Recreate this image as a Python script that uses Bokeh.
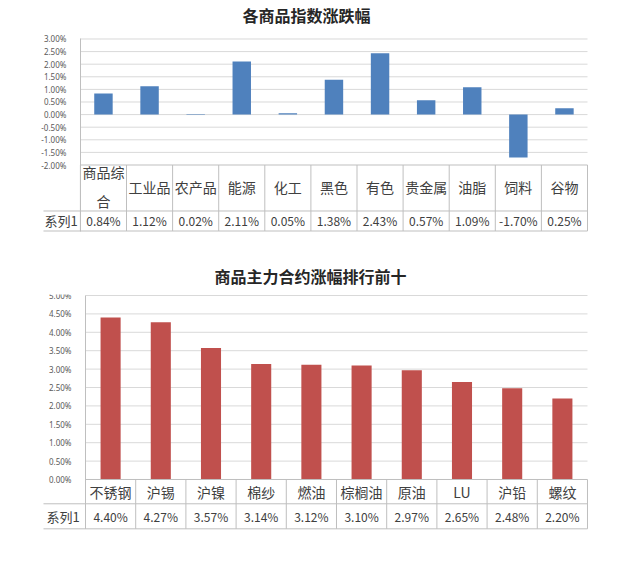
from bokeh.plotting import figure
from bokeh.models import Range1d, FixedTicker, NumeralTickFormatter
from bokeh.layouts import column
from bokeh.core.properties import value
from bokeh.embed import file_html
from bokeh.resources import INLINE

# ---------------- data ----------------
top_title = "各商品指数涨跌幅"
top_categories = ["商品综\n合", "工业品", "农产品", "能源", "化工", "黑色", "有色", "贵金属", "油脂", "饲料", "谷物"]
top_values = [0.0084, 0.0112, 0.0002, 0.0211, 0.0005, 0.0138, 0.0243, 0.0057, 0.0109, -0.0170, 0.0025]
top_labels = ["0.84%", "1.12%", "0.02%", "2.11%", "0.05%", "1.38%", "2.43%", "0.57%", "1.09%", "-1.70%", "0.25%"]
top_ticks = [-0.02, -0.015, -0.01, -0.005, 0.0, 0.005, 0.01, 0.015, 0.02, 0.025, 0.03]

bot_title = "商品主力合约涨幅排行前十"
bot_categories = ["不锈钢", "沪锡", "沪镍", "棉纱", "燃油", "棕榈油", "原油", "LU", "沪铅", "螺纹"]
bot_values = [0.0440, 0.0427, 0.0357, 0.0314, 0.0312, 0.0310, 0.0297, 0.0265, 0.0248, 0.0220]
bot_labels = ["4.40%", "4.27%", "3.57%", "3.14%", "3.12%", "3.10%", "2.97%", "2.65%", "2.48%", "2.20%"]
bot_ticks = [0.0, 0.005, 0.01, 0.015, 0.02, 0.025, 0.03, 0.035, 0.04, 0.045, 0.05]

series_name = "系列1"

FONT = value("Noto Sans CJK SC")
GRID = "#d9d9d9"
TABLE = "#bfbfbf"
TEXT = "#404040"


def make_chart(title, title_offset, title_valign, title_standoff, cats, vals, labels, ticks,
               color, height, x_range, y_range, borders, table_rows, text_y,
               label_x, tick_size, cat_size):
    left, right, top, bottom = borders
    p = figure(width=640, height=height, output_backend="svg", toolbar_location=None,
               x_range=x_range, y_range=y_range, x_axis_location=None,
               min_border_left=left, min_border_right=right,
               min_border_top=top, min_border_bottom=bottom)
    p.outline_line_color = None
    p.xgrid.visible = False
    p.ygrid.visible = False
    p.background_fill_color = "white"

    p.title.text = title
    p.title.align = "left"
    p.title.offset = title_offset
    p.title.vertical_align = title_valign
    p.title.text_font = "Noto Sans CJK SC"
    p.title.text_font_size = "16px"
    p.title.text_font_style = "bold"
    p.title.text_color = "#262626"
    p.title.standoff = title_standoff

    n = len(cats)
    xs = [i + 0.5 for i in range(n)]
    row_top, row_mid, row_bot = table_rows
    cat_y, ser_y = text_y

    # gridlines
    grid_ticks = [t for t in ticks if t != ticks[0]]
    p.segment(x0=[0] * len(grid_ticks), x1=[n] * len(grid_ticks),
              y0=grid_ticks, y1=grid_ticks, line_color=GRID, line_width=1)

    # bars
    p.vbar(x=xs, top=vals, bottom=0, width=0.4, fill_color=color, line_color=None)

    # table lines
    p.segment(x0=[0, label_x[0], label_x[0]], x1=[n, n, n],
              y0=[row_top, row_mid, row_bot], y1=[row_top, row_mid, row_bot],
              line_color=TABLE, line_width=1)
    vx = list(range(0, n + 1))
    p.segment(x0=vx, x1=vx, y0=[row_top] * len(vx), y1=[row_bot] * len(vx),
              line_color=TABLE, line_width=1)

    # table text
    p.text(x=xs, y=[cat_y] * n, text=cats, text_font=FONT, text_font_size=cat_size,
           text_align="center", text_baseline="middle", text_color=TEXT,
           text_line_height=1.45)
    p.text(x=xs, y=[ser_y] * n, text=labels, text_font=FONT, text_font_size="12px",
           text_align="center", text_baseline="middle", text_color=TEXT)
    p.text(x=[label_x[1]], y=[ser_y], text=[series_name], text_font=FONT,
           text_font_size="13px", text_align="left", text_baseline="middle",
           text_color=TEXT)

    # y axis drawn at the plot's left edge
    ax = p.yaxis[0]
    ax.fixed_location = 0
    ax.bounds = (row_bot, ticks[-1])
    ax.ticker = FixedTicker(ticks=ticks)
    ax.formatter = NumeralTickFormatter(format="0.00%")
    ax.major_tick_line_color = None
    ax.minor_tick_line_color = None
    ax.axis_line_color = TABLE
    ax.major_label_standoff = 8
    ax.major_label_text_font_size = tick_size
    ax.major_label_text_color = "#595959"
    ax.major_label_text_font = "Noto Sans"
    return p


# top chart: plot area x 80..588 px (46.18 px per category), frame starts at 28 px
p1 = make_chart(top_title, 214, "top", 4, top_categories, top_values, top_labels, top_ticks,
                "#4f81bd", 250, Range1d(-1.1260, 11.065), Range1d(-0.04718, 0.03337),
                (28, 49, 30, 17), (-0.02, -0.03825, -0.04619), (-0.0287, -0.0420),
                (-0.8012, -0.78), "8px", "14px")

# bottom chart: plot area x 85..587 px (50.2 px per category), frame starts at 28 px
p2 = make_chart(bot_title, 186, "bottom", 13, bot_categories, bot_values, bot_labels, bot_ticks,
                "#c0504d", 314, Range1d(-1.1355, 10.06), Range1d(-0.01413, 0.05027),
                (28, 50, 44, 33), (0.0, -0.0066, -0.0134), (-0.0033, -0.0100),
                (-0.8367, -0.777), "8px", "14px")

layout = column(p1, p2, spacing=0)
open("out.html", "w").write(file_html(layout, INLINE))
